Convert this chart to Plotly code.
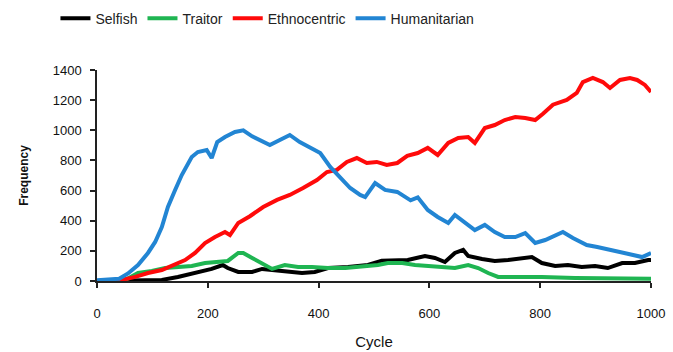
import plotly.graph_objects as go

# Humanitarian (blue)
hum_x = [0, 20, 40, 56, 74, 92, 105, 117, 128, 141, 153, 171, 182, 198, 207, 217, 231, 249, 264, 280,
         294, 312, 330, 348, 366, 384, 403, 421, 439, 457, 475, 484, 502, 520, 542, 556, 566, 579, 597,
         615, 634, 646, 664, 682, 700, 718, 736, 755, 773, 791, 809, 827, 841, 859, 884, 903, 926, 944,
         968, 984, 1000]
hum_y = [5, 10, 15, 50, 106, 186, 259, 358, 491, 604, 703, 823, 856, 869, 816, 922, 955, 989, 1000, 960,
         936, 902, 936, 969, 922, 889, 849, 757, 690, 617, 571, 557, 650, 604, 591, 560, 535, 555, 471,
         425, 385, 438, 385, 338, 372, 325, 292, 292, 318, 252, 272, 305, 325, 285, 239, 226, 206, 192,
         173, 159, 186]

# Ethnocentric (red)
eth_x = [0, 40, 69, 92, 117, 141, 159, 177, 195, 213, 231, 240, 255, 276, 300, 325, 348, 372, 397, 415,
         433, 451, 469, 487, 505, 523, 542, 560, 579, 597, 615, 634, 652, 670, 682, 700, 718, 736, 755,
         773, 791, 805, 823, 848, 866, 877, 895, 913, 926, 944, 962, 975, 989, 1000]
eth_y = [0, 3, 27, 53, 73, 113, 139, 186, 252, 292, 325, 305, 385, 430, 491, 538, 571, 617, 670, 723,
         737, 790, 816, 783, 790, 770, 783, 830, 849, 883, 836, 916, 949, 955, 916, 1015, 1035, 1068, 1088,
         1082, 1068, 1110, 1170, 1201, 1248, 1320, 1347, 1320, 1281, 1334, 1347, 1334, 1301, 1254]

# Traitor (green)
tra_x = [0, 40, 51, 74, 99, 123, 146, 171, 195, 218, 236, 255, 264, 280, 298, 316, 339, 363, 388, 417,
         448, 478, 507, 525, 551, 574, 597, 623, 646, 670, 688, 706, 724, 755, 803, 863, 922, 984, 1000]
tra_y = [0, 2, 7, 53, 66, 86, 93, 100, 119, 126, 133, 186, 186, 153, 119, 80, 106, 93, 93, 86,
         86, 93, 106, 119, 119, 106, 100, 93, 86, 106, 86, 53, 27, 27, 27, 20, 20, 20, 15]

# Selfish (black)
sel_x = [0, 87, 117, 146, 177, 207, 227, 236, 255, 280, 298, 321, 345, 370, 393, 417, 453, 489, 514, 538,
         561, 592, 610, 628, 646, 661, 670, 695, 718, 742, 767, 785, 803, 827, 850, 875, 899, 922, 948,
         971, 995, 1000]
sel_y = [0, 3, 7, 27, 53, 80, 106, 86, 60, 60, 80, 73, 60, 53, 60, 86, 93, 106, 135, 139,
         139, 166, 153, 126, 186, 206, 166, 146, 133, 139, 153, 159, 119, 100, 106, 93, 100, 86, 119,
         119, 139, 140]

x_ticks = [0, 200, 400, 600, 800, 1000]
y_ticks = [0, 200, 400, 600, 800, 1000, 1200, 1400]

series = [
    ("Selfish", sel_x, sel_y, "#000000"),
    ("Traitor", tra_x, tra_y, "#1fb552"),
    ("Ethnocentric", eth_x, eth_y, "#ff0a0a"),
    ("Humanitarian", hum_x, hum_y, "#2285d3"),
]

fig = go.Figure()
for name, xs, ys, col in series:
    fig.add_trace(go.Scatter(x=xs, y=ys, mode="lines", name=name,
                             line=dict(color=col, width=4)))

font = "Liberation Sans, Arial, sans-serif"
fig.update_layout(
    width=673, height=352,
    margin=dict(l=97, r=22, t=70, b=71, autoexpand=False),
    paper_bgcolor="white", plot_bgcolor="white",
    font=dict(family=font, size=13, color="#111"),
    showlegend=True,
    legend=dict(orientation="h", x=-0.075, xanchor="left", y=1.243, yanchor="middle",
                font=dict(size=14, color="#222"), traceorder="normal",
                itemwidth=30, tracegroupgap=0),
    xaxis=dict(range=[0, 1000], tickvals=x_ticks, showgrid=False, zeroline=False,
               showline=True, linecolor="#222", linewidth=1.5,
               ticks="outside", ticklen=5, tickcolor="#222", tickwidth=1.5,
               ticklabelstandoff=15,
               title=dict(text="Cycle", font=dict(size=15), standoff=16)),
    yaxis=dict(range=[0, 1400], tickvals=y_ticks, showgrid=False, zeroline=False,
               showline=True, linecolor="#222", linewidth=1.5,
               ticks="outside", ticklen=5, tickcolor="#222", tickwidth=1.5,
               ticklabelstandoff=6,
               title=dict(text="<b>Frequency</b>", font=dict(size=12), standoff=22)),
)

fig.write_html("out.html")
